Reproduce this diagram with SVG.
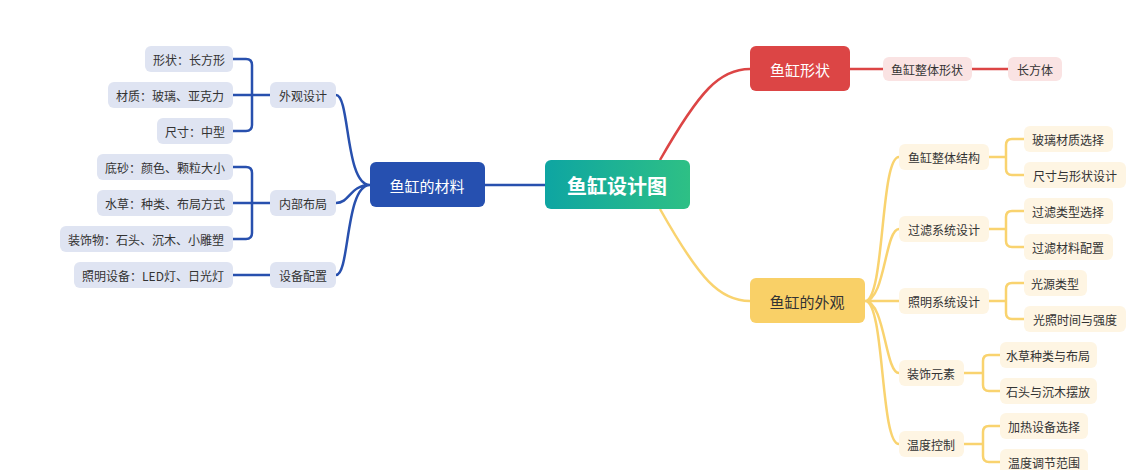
<svg xmlns="http://www.w3.org/2000/svg" width="1129" height="470" viewBox="0 0 1129 470">
<defs>
<linearGradient id="rg" x1="0" y1="0" x2="1" y2="0"><stop offset="0" stop-color="#0ea5a2"/><stop offset="1" stop-color="#2ec085"/></linearGradient>
<style>
text{font-family:"Noto Sans CJK SC","Liberation Sans",sans-serif;dominant-baseline:central;text-anchor:middle}
.s{font-size:12px;fill:#333}
.m{font-size:15px}
.b{fill:none;stroke:#2850ae;stroke-width:2.5}
.r{fill:none;stroke:#dc4545;stroke-width:2.5}
.y{fill:none;stroke:#f9d36f;stroke-width:2.5}
.lb{fill:#dfe4f2}.lr{fill:#fae3e3}.ly{fill:#fef5e3}
</style>
</defs>
<rect width="1129" height="470" fill="#fff"/>
<g id="connectors">
<path class="b" d="M545 185H485"/>
<path class="b" d="M370 185C345 185 350 95 336 95M370 185C350 185 350 203 336 203M370 185C345 185 350 275 336 275"/>
<path class="b" d="M270 95H252M233 59H246Q252 59 252 65V125Q252 131 246 131H233M233 95H252"/>
<path class="b" d="M270 203H252M233 167H246Q252 167 252 173V233Q252 239 246 239H233M233 203H252"/>
<path class="b" d="M270 275H233"/>
<path class="r" d="M660 160C700 90 720 69 750 69M850 69H883M972 69H1008"/>
<path class="y" d="M660 209C700 280 720 301 750 301"/>
<path class="y" d="M865 301C885 301 880 157 899 157M865 301C885 301 885 229 899 229M865 301H899M865 301C885 301 885 373 899 373M865 301C885 301 880 444 899 444"/>
<path class="y" d="M989 157H1006M1024 139H1012Q1006 139 1006 145V169Q1006 175 1012 175H1024"/>
<path class="y" d="M989 229H1006M1024 211H1012Q1006 211 1006 217V241Q1006 247 1012 247H1024"/>
<path class="y" d="M989 301H1006M1024 283H1012Q1006 283 1006 289V313Q1006 319 1012 319H1024"/>
<path class="y" d="M964 373H983M1000 355H989Q983 355 983 361V385Q983 391 989 391H1000"/>
<path class="y" d="M964 444H983M1000 426H989Q983 426 983 432V456Q983 462 989 462H1000"/>
</g>
<g id="root"><rect x="545" y="160" width="145" height="49" rx="6" fill="url(#rg)"/><text x="617" y="185" font-size="20" font-weight="bold" fill="#fff">鱼缸设计图</text></g>
<g id="n-shape"><rect x="750" y="46" width="100" height="45" rx="6" fill="#dc4545"/><text class="m" x="800" y="69" fill="#fff">鱼缸形状</text></g>
<g id="n-shape1"><rect class="lr" x="883" y="57" width="89" height="24" rx="6"/><text class="s" x="927" y="69">鱼缸整体形状</text></g>
<g id="n-shape2"><rect class="lr" x="1008" y="57" width="54" height="24" rx="6"/><text class="s" x="1035" y="69">长方体</text></g>
<g id="n-look"><rect x="750" y="278" width="115" height="45" rx="6" fill="#f9d067"/><text class="m" x="807" y="301" fill="#333">鱼缸的外观</text></g>
<g id="n-mat"><rect x="370" y="162" width="115" height="45" rx="6" fill="#2650b0"/><text class="m" x="427" y="185" fill="#fff">鱼缸的材料</text></g>
<g id="y1"><rect class="ly" x="899" y="144" width="90" height="26" rx="6"/><text class="s" x="944" y="157">鱼缸整体结构</text></g>
<g id="y2"><rect class="ly" x="899" y="216" width="90" height="26" rx="6"/><text class="s" x="944" y="229">过滤系统设计</text></g>
<g id="y3"><rect class="ly" x="899" y="288" width="90" height="26" rx="6"/><text class="s" x="944" y="301">照明系统设计</text></g>
<g id="y4"><rect class="ly" x="899" y="360" width="65" height="26" rx="6"/><text class="s" x="931" y="373">装饰元素</text></g>
<g id="y5"><rect class="ly" x="899" y="431" width="65" height="26" rx="6"/><text class="s" x="931" y="444">温度控制</text></g>
<g id="y1a"><rect class="ly" x="1024" y="126" width="89" height="26" rx="6"/><text class="s" x="1068" y="139">玻璃材质选择</text></g>
<g id="y1b"><rect class="ly" x="1024" y="162" width="102" height="26" rx="6"/><text class="s" x="1075" y="175">尺寸与形状设计</text></g>
<g id="y2a"><rect class="ly" x="1024" y="198" width="89" height="26" rx="6"/><text class="s" x="1068" y="211">过滤类型选择</text></g>
<g id="y2b"><rect class="ly" x="1024" y="234" width="89" height="26" rx="6"/><text class="s" x="1068" y="247">过滤材料配置</text></g>
<g id="y3a"><rect class="ly" x="1024" y="270" width="63" height="26" rx="6"/><text class="s" x="1055" y="283">光源类型</text></g>
<g id="y3b"><rect class="ly" x="1024" y="306" width="102" height="26" rx="6"/><text class="s" x="1075" y="319">光照时间与强度</text></g>
<g id="y4a"><rect class="ly" x="1000" y="342" width="97" height="26" rx="6"/><text class="s" x="1048" y="355">水草种类与布局</text></g>
<g id="y4b"><rect class="ly" x="1000" y="378" width="97" height="26" rx="6"/><text class="s" x="1048" y="391">石头与沉木摆放</text></g>
<g id="y5a"><rect class="ly" x="1000" y="413" width="88" height="26" rx="6"/><text class="s" x="1044" y="426">加热设备选择</text></g>
<g id="y5b"><rect class="ly" x="1000" y="449" width="88" height="26" rx="6"/><text class="s" x="1044" y="462">温度调节范围</text></g>
<g id="b1"><rect class="lb" x="270" y="82" width="66" height="26" rx="6"/><text class="s" x="303" y="95">外观设计</text></g>
<g id="b2"><rect class="lb" x="270" y="190" width="66" height="26" rx="6"/><text class="s" x="303" y="203">内部布局</text></g>
<g id="b3"><rect class="lb" x="270" y="262" width="66" height="26" rx="6"/><text class="s" x="303" y="275">设备配置</text></g>
<g id="b1a"><rect class="lb" x="145" y="46" width="88" height="26" rx="6"/><text class="s" x="189" y="59">形状：长方形</text></g>
<g id="b1b"><rect class="lb" x="108" y="82" width="125" height="26" rx="6"/><text class="s" x="170" y="95">材质：玻璃、亚克力</text></g>
<g id="b1c"><rect class="lb" x="157" y="118" width="76" height="26" rx="6"/><text class="s" x="195" y="131">尺寸：中型</text></g>
<g id="b2a"><rect class="lb" x="97" y="154" width="136" height="26" rx="6"/><text class="s" x="165" y="167">底砂：颜色、颗粒大小</text></g>
<g id="b2b"><rect class="lb" x="97" y="190" width="136" height="26" rx="6"/><text class="s" x="165" y="203">水草：种类、布局方式</text></g>
<g id="b2c"><rect class="lb" x="60" y="226" width="173" height="26" rx="6"/><text class="s" x="146" y="239">装饰物：石头、沉木、小雕塑</text></g>
<g id="b3a"><rect class="lb" x="74" y="262" width="159" height="26" rx="6"/><text class="s" x="153" y="275">照明设备：LED灯、日光灯</text></g>
</svg>
